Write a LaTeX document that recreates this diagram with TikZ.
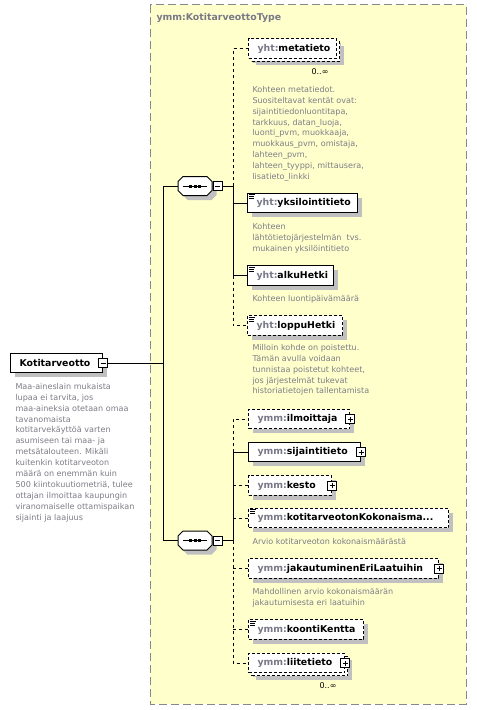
\documentclass[tikz,border=0pt]{standalone}
\usepackage{fontspec}
\setmainfont{DejaVu Sans}
\usetikzlibrary{shadows}
\definecolor{bgy}{RGB}{255,255,204}
\definecolor{frame}{RGB}{136,136,136}
\definecolor{pfx}{RGB}{120,120,135}
\definecolor{desc}{RGB}{125,125,135}
\definecolor{shd}{RGB}{192,192,192}
\newcommand\seqsym[2]{%
  \node[inner sep=0, minimum width=34bp, minimum height=19bp] (#1) at (#2) {};
  \begin{scope}[shift={(#2)}]
    \fill[shd] (-12+4.5,-9.5+4.5) -- (12+4.5,-9.5+4.5) -- (17+4.5,-4.5+4.5) -- (17+4.5,4.5+4.5) -- (12+4.5,9.5+4.5) -- (-12+4.5,9.5+4.5) -- (-17+4.5,4.5+4.5) -- (-17+4.5,-4.5+4.5) -- cycle;
    \filldraw[fill=white] (-12,-9.5) -- (12,-9.5) -- (17,-4.5) -- (17,4.5) -- (12,9.5) -- (-12,9.5) -- (-17,4.5) -- (-17,-4.5) -- cycle;
    \draw (-12,0) -- (12,0);
    \fill (-6,-1.5) rectangle (-3,1.5);
    \fill (-1.5,-1.5) rectangle (1.5,1.5);
    \fill (3,-1.5) rectangle (6,1.5);
  \end{scope}}
\begin{document}
\begin{tikzpicture}[x=1bp,y=-1bp, line width=1bp,
  elem/.style={draw, fill=white, anchor=west, inner xsep=0pt, inner ysep=0pt,
    minimum height=19.5bp, text width=#1, align=left,
    font=\fontsize{9.4}{11}\selectfont\bfseries,
    general shadow={shadow scale=1, fill=shd, draw=none, shadow xshift=4.5bp, shadow yshift=-4.5bp}},
  opt/.style={dash pattern=on 3bp off 2bp},
  cdash/.style={dash pattern=on 3bp off 3bp},
  multi/.style={general shadow={shadow scale=1, fill=shd, draw=none, shadow xshift=7bp, shadow yshift=-7bp},
    general shadow={shadow scale=1, fill=white, draw=black, line width=1bp, dash pattern=on 3bp off 2bp, shadow xshift=3bp, shadow yshift=-3bp}},
  doc/.style={path picture={
    \draw[solid, line width=0.8bp] ([xshift=1.5bp,yshift=-1.5bp]path picture bounding box.north west) -- ++(6,0);
    \draw[solid, line width=0.8bp] ([xshift=1.5bp,yshift=-3.5bp]path picture bounding box.north west) -- ++(5,0);
    \draw[solid, line width=0.8bp] ([xshift=1.5bp,yshift=-5.5bp]path picture bounding box.north west) -- ++(5,0);}},
  pmbox/.style={draw, solid, fill=white, minimum size=9bp, inner sep=0pt},
  minusbox/.style={pmbox, path picture={\draw[line width=1bp] ([xshift=2bp]path picture bounding box.west) -- ([xshift=-2bp]path picture bounding box.east);}},
  plusbox/.style={pmbox, path picture={\draw[line width=1bp] ([xshift=2bp]path picture bounding box.west) -- ([xshift=-2bp]path picture bounding box.east) ([yshift=2bp]path picture bounding box.south) -- ([yshift=-2bp]path picture bounding box.north);}},
  desctext/.style={anchor=north west, inner sep=0pt, align=left, text=desc, font=\fontsize{8.1}{11}\selectfont},
  occ/.style={inner sep=0pt, font=\fontsize{8}{10}\selectfont}
]
\useasboundingbox (0,0) rectangle (477,710);
\fill[white] (0,0) rectangle (477,710);
% type frame
\draw[fill=bgy, draw=frame, dash pattern=on 8bp off 4bp] (150,5) rectangle (466,704);
\node[anchor=west, inner sep=0pt, text=pfx, font=\fontsize{9.4}{11}\selectfont\bfseries] (title) at (156,18) {ymm:KotitarveottoType};

% root element
\node[elem=92bp] (root) at (10,363) {\hspace*{9bp}Kotitarveotto};
\node[minusbox] (rootm) at (root.east) {};
\node[desctext] (rootd) at (15,382.5) {Maa-aineslain mukaista\\lupaa ei tarvita, jos\\maa-aineksia otetaan omaa\\tavanomaista\\kotitarvekäyttöä varten\\asumiseen tai maa- ja\\metsätalouteen. Mikäli\\kuitenkin kotitarveoton\\määrä on enemmän kuin\\500 kiintokuutiometriä, tulee\\ottajan ilmoittaa kaupungin\\viranomaiselle ottamispaikan\\sijainti ja laajuus};

% sequences
\seqsym{s1}{195,186}
\node[minusbox] (s1m) at (217.5,186) {};
\seqsym{s2}{195,540.5}
\node[minusbox] (s2m) at (217.5,540.5) {};
\coordinate (v) at (163,363);
\coordinate (b1) at (233,186);
\coordinate (b2) at (233,540.5);

% group 1
\node[elem=88bp, opt, multi] (meta) at (248,48.5) {\hspace*{9bp}\textcolor{pfx}{yht:}metatieto};
\node[occ] (metao) at (320,72) {0..∞};
\node[desctext] (metad) at (252,85.5) {Kohteen metatiedot.\\Suositeltavat kentät ovat:\\sijaintitiedonluontitapa,\\tarkkuus, datan\_luoja,\\luonti\_pvm, muokkaaja,\\muokkaus\_pvm, omistaja,\\lahteen\_pvm,\\lahteen\_tyyppi, mittausera,\\lisatieto\_linkki};
\node[elem=110bp, doc] (yks) at (247,203) {\hspace*{9bp}\textcolor{pfx}{yht:}yksilointitieto};
\node[desctext] (yksd) at (252,222.5) {Kohteen\\lähtötietojärjestelmän\ \ tvs.\\mukainen yksilöintitieto};
\node[elem=86bp, doc] (alku) at (247,275.5) {\hspace*{9bp}\textcolor{pfx}{yht:}alkuHetki};
\node[desctext] (alkud) at (252,294.5) {Kohteen luontipäivämäärä};
\node[elem=95bp, opt, doc] (loppu) at (247,325.5) {\hspace*{9bp}\textcolor{pfx}{yht:}loppuHetki};
\node[desctext] (loppud) at (252,343.5) {Milloin kohde on poistettu.\\Tämän avulla voidaan\\tunnistaa poistetut kohteet,\\jos järjestelmät tukevat\\historiatietojen tallentamista};

% group 2
\node[elem=101bp, opt] (ilm) at (248,419) {\hspace*{9bp}\textcolor{pfx}{ymm:}ilmoittaja};
\node[plusbox] (ilmp) at (ilm.east) {};
\node[elem=112bp] (sij) at (248,452) {\hspace*{9bp}\textcolor{pfx}{ymm:}sijaintitieto};
\node[plusbox] (sijp) at (sij.east) {};
\node[elem=83bp, opt] (kesto) at (248,485.5) {\hspace*{9bp}\textcolor{pfx}{ymm:}kesto};
\node[plusbox] (kestop) at (kesto.east) {};
\node[elem=200bp, opt, doc] (kot) at (248,518) {\hspace*{9bp}\textcolor{pfx}{ymm:}kotitarveotonKokonaisma...};
\node[desctext] (kotd) at (252,537.5) {Arvio kotitarveoton kokonaismäärästä};
\node[elem=190bp, opt] (jak) at (248,568.5) {\hspace*{9bp}\textcolor{pfx}{ymm:}jakautuminenEriLaatuihin};
\node[plusbox] (jakp) at (jak.east) {};
\node[desctext] (jakd) at (252,587.5) {Mahdollinen arvio kokonaismäärän\\jakautumisesta eri laatuihin};
\node[elem=115bp, opt, doc] (koon) at (248,629.5) {\hspace*{9bp}\textcolor{pfx}{ymm:}koontiKentta};
\node[elem=96bp, opt, multi] (liite) at (248,663) {\hspace*{9bp}\textcolor{pfx}{ymm:}liitetieto};
\node[plusbox] (liitep) at (liite.east) {};
\node[occ] (liiteo) at (328,686) {0..∞};

% connectors
\draw (rootm.east) -- (v);
\draw (s1.west) -| (v);
\draw (s2.west) -| (v);
\draw (s1m.east) -- (b1);
\draw (s2m.east) -- (b2);
\draw[cdash] (b1) |- (meta.west);
\draw (b1) |- (yks.west);
\draw (b1) |- (alku.west);
\draw[cdash] (b1 |- alku.west) |- (loppu.west);
\draw[cdash] (b2 |- sij.west) |- (ilm.west);
\draw (b2) |- (sij.west);
\draw[cdash] (b2 |- kesto.west) -- (kesto.west);
\draw[cdash] (b2 |- kot.west) -- (kot.west);
\draw[cdash] (b2) |- (liite.west);
\draw[cdash] (b2 |- jak.west) -- (jak.west);
\draw[cdash] (b2 |- koon.west) -- (koon.west);
\end{tikzpicture}
\end{document}
